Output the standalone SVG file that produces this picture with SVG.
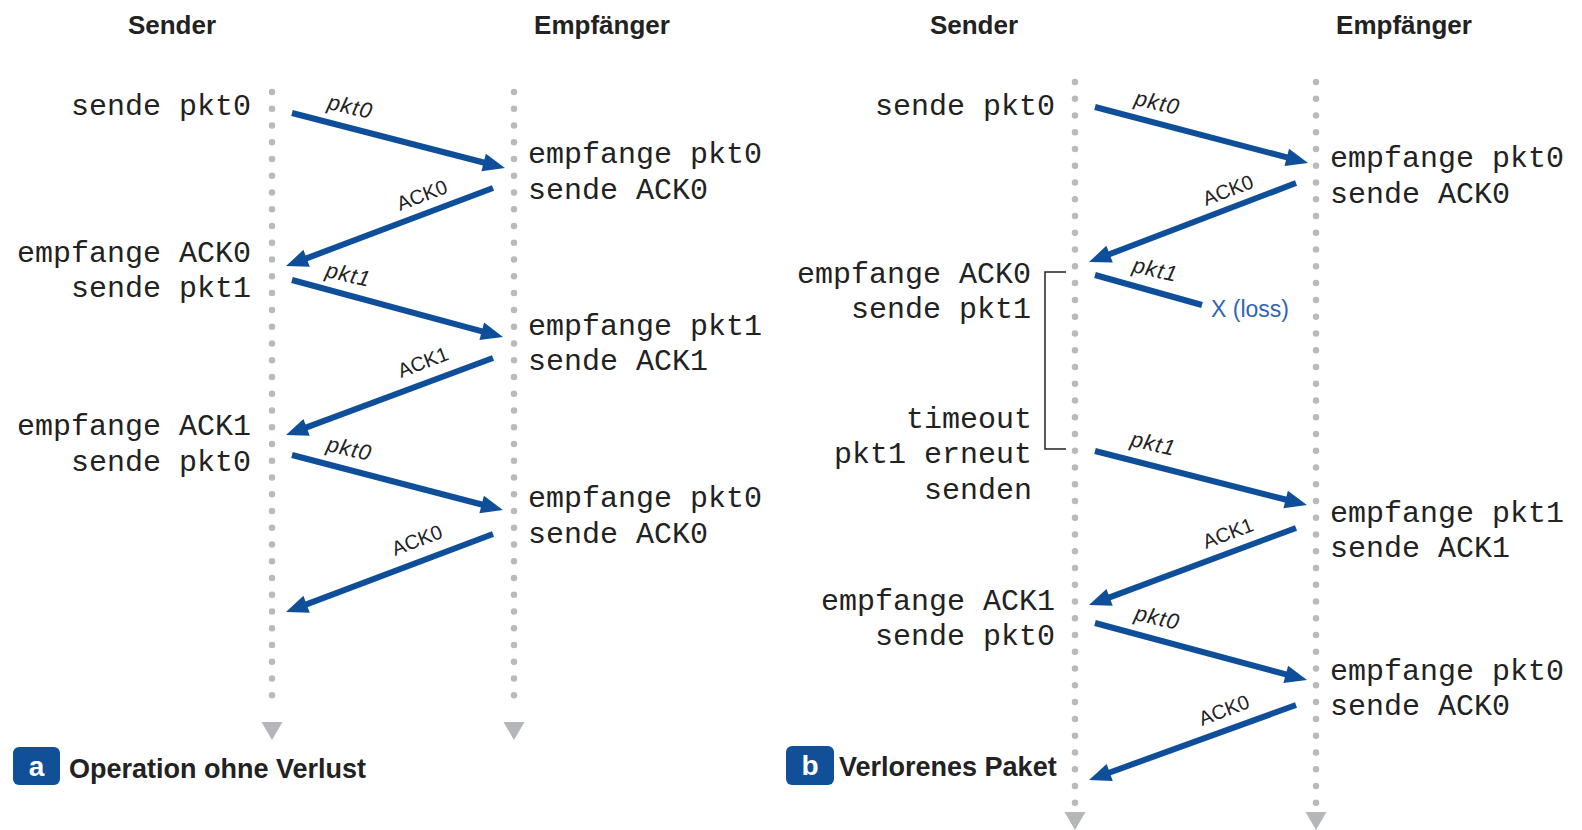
<svg xmlns="http://www.w3.org/2000/svg" width="1582" height="830" viewBox="0 0 1582 830">
<style>
.hdr{font-family:"Liberation Sans",Arial,sans-serif;font-weight:bold;font-size:26px;fill:#222;text-anchor:middle}
.mono{font-family:"Liberation Mono","Courier New",monospace;font-size:30px;fill:#222}
.end{text-anchor:end}
.life{stroke:#b9babc;stroke-width:6.5;stroke-linecap:round;stroke-dasharray:0 16.76;fill:none}
.tri{fill:#b5b6b9}
.arr{stroke:#0f4f99;stroke-width:6;fill:none;marker-end:url(#ah)}
.lost{stroke:#0f4f99;stroke-width:6;fill:none}
.pl{font-family:"Liberation Sans",Arial,sans-serif;font-style:italic;font-size:22px;letter-spacing:1px;fill:#222;text-anchor:middle}
.al{font-family:"Liberation Sans",Arial,sans-serif;font-size:20px;fill:#222;text-anchor:middle}
.loss{font-family:"Liberation Sans",Arial,sans-serif;font-size:23px;fill:#2f64b4}
.cap{font-family:"Liberation Sans",Arial,sans-serif;font-weight:bold;font-size:27px;fill:#222}
.badge{fill:#114f99}
.bl{font-family:"Liberation Sans",Arial,sans-serif;font-weight:bold;font-size:28px;fill:#fff;text-anchor:middle}
.brk{stroke:#222;stroke-width:1.5;fill:none}
</style>
<defs>
<marker id="ah" markerUnits="userSpaceOnUse" markerWidth="24" markerHeight="20" refX="8" refY="0" orient="auto" overflow="visible">
<path d="M0,-9 L22,0 L0,9 Z" fill="#0f4f99"/>
</marker>
</defs>
<rect width="1582" height="830" fill="#fff"/>

<g id="lifelines-a">
<line class="life" x1="272" y1="92" x2="272" y2="712"/>
<polygon class="tri" points="261.5,722 282.5,722 272,740"/>
<line class="life" x1="514" y1="92" x2="514" y2="712"/>
<polygon class="tri" points="503.5,722 524.5,722 514,740"/>
</g>
<g id="lifelines-b">
<line class="life" x1="1075" y1="82" x2="1075" y2="803"/>
<polygon class="tri" points="1064.5,812 1085.5,812 1075,830"/>
<line class="life" x1="1316" y1="82" x2="1316" y2="803"/>
<polygon class="tri" points="1305.5,812 1326.5,812 1316,830"/>
</g>

<g id="hdr-a-sender"><text class="hdr" x="172" y="34">Sender</text></g>
<g id="hdr-a-empf"><text class="hdr" x="602" y="34">Empfänger</text></g>
<g id="hdr-b-sender"><text class="hdr" x="974" y="34">Sender</text></g>
<g id="hdr-b-empf"><text class="hdr" x="1404" y="34">Empfänger</text></g>

<g id="a-s1"><text class="mono end" x="251" y="115">sende pkt0</text></g>
<g id="a-s2"><text class="mono end" x="251" y="262">empfange ACK0</text><text class="mono end" x="251" y="297">sende pkt1</text></g>
<g id="a-s3"><text class="mono end" x="251" y="435">empfange ACK1</text><text class="mono end" x="251" y="471">sende pkt0</text></g>
<g id="a-r1"><text class="mono" x="528" y="163">empfange pkt0</text><text class="mono" x="528" y="199">sende ACK0</text></g>
<g id="a-r2"><text class="mono" x="528" y="335">empfange pkt1</text><text class="mono" x="528" y="370">sende ACK1</text></g>
<g id="a-r3"><text class="mono" x="528" y="507">empfange pkt0</text><text class="mono" x="528" y="543">sende ACK0</text></g>

<g id="b-s1"><text class="mono end" x="1055" y="115">sende pkt0</text></g>
<g id="b-s2"><text class="mono end" x="1031" y="283">empfange ACK0</text><text class="mono end" x="1031" y="318">sende pkt1</text></g>
<g id="b-s3"><text class="mono end" x="1032" y="428">timeout</text><text class="mono end" x="1032" y="463">pkt1 erneut</text><text class="mono end" x="1032" y="499">senden</text></g>
<g id="b-s4"><text class="mono end" x="1055" y="610">empfange ACK1</text><text class="mono end" x="1055" y="645">sende pkt0</text></g>
<g id="b-r1"><text class="mono" x="1330" y="167">empfange pkt0</text><text class="mono" x="1330" y="203">sende ACK0</text></g>
<g id="b-r2"><text class="mono" x="1330" y="522">empfange pkt1</text><text class="mono" x="1330" y="557">sende ACK1</text></g>
<g id="b-r3"><text class="mono" x="1330" y="680">empfange pkt0</text><text class="mono" x="1330" y="715">sende ACK0</text></g>
<g id="b-timer"><path class="brk" d="M1066,272 H1045 V449 H1066"/></g>

<g id="cap-a"><rect class="badge" x="13" y="747" width="47" height="38" rx="6"/><text class="bl" x="36.5" y="776">a</text><text class="cap" x="69" y="778">Operation ohne Verlust</text></g>
<g id="cap-b"><rect class="badge" x="786" y="746" width="48" height="39" rx="6"/><text class="bl" x="810" y="775">b</text><text class="cap" x="839" y="776">Verlorenes Paket</text></g>

<g id="connectors">
<line class="arr" x1="292" y1="113" x2="491.4" y2="164.5"/>
<line class="arr" x1="493" y1="188" x2="299.1" y2="261.1"/>
<line class="arr" x1="292" y1="280" x2="489.5" y2="333.3"/>
<line class="arr" x1="493" y1="358" x2="299.1" y2="430.1"/>
<line class="arr" x1="292" y1="455" x2="489.4" y2="506.5"/>
<line class="arr" x1="493" y1="534" x2="299.1" y2="607.1"/>

<line class="arr" x1="1095" y1="107" x2="1294.5" y2="159.4"/>
<line class="arr" x1="1296" y1="183" x2="1102.1" y2="257"/>
<line class="lost" x1="1095" y1="275" x2="1202" y2="305"/>
<line class="arr" x1="1095" y1="451" x2="1293.4" y2="501.5"/>
<line class="arr" x1="1296" y1="528" x2="1102.1" y2="600.1"/>
<line class="arr" x1="1095" y1="623" x2="1293.5" y2="676.4"/>
<line class="arr" x1="1296" y1="705" x2="1102.2" y2="775.2"/>

<text class="pl" transform="translate(350,108) rotate(13)" y="6">pkt0</text>
<text class="al" transform="translate(422,195) rotate(-21)" y="7">ACK0</text>
<text class="pl" transform="translate(348,276) rotate(13)" y="6">pkt1</text>
<text class="al" transform="translate(423,362) rotate(-21)" y="7">ACK1</text>
<text class="pl" transform="translate(349,450) rotate(13)" y="6">pkt0</text>
<text class="al" transform="translate(417,540) rotate(-21)" y="7">ACK0</text>

<text class="pl" transform="translate(1157,104) rotate(13)" y="6">pkt0</text>
<text class="al" transform="translate(1228,190) rotate(-21)" y="7">ACK0</text>
<text class="pl" transform="translate(1155,271) rotate(13)" y="6">pkt1</text>
<text class="loss" x="1211" y="317">X (loss)</text>
<text class="pl" transform="translate(1153,445) rotate(13)" y="6">pkt1</text>
<text class="al" transform="translate(1228,533) rotate(-21)" y="7">ACK1</text>
<text class="pl" transform="translate(1157,619) rotate(13)" y="6">pkt0</text>
<text class="al" transform="translate(1224,710) rotate(-21)" y="7">ACK0</text>
</g>
</svg>
